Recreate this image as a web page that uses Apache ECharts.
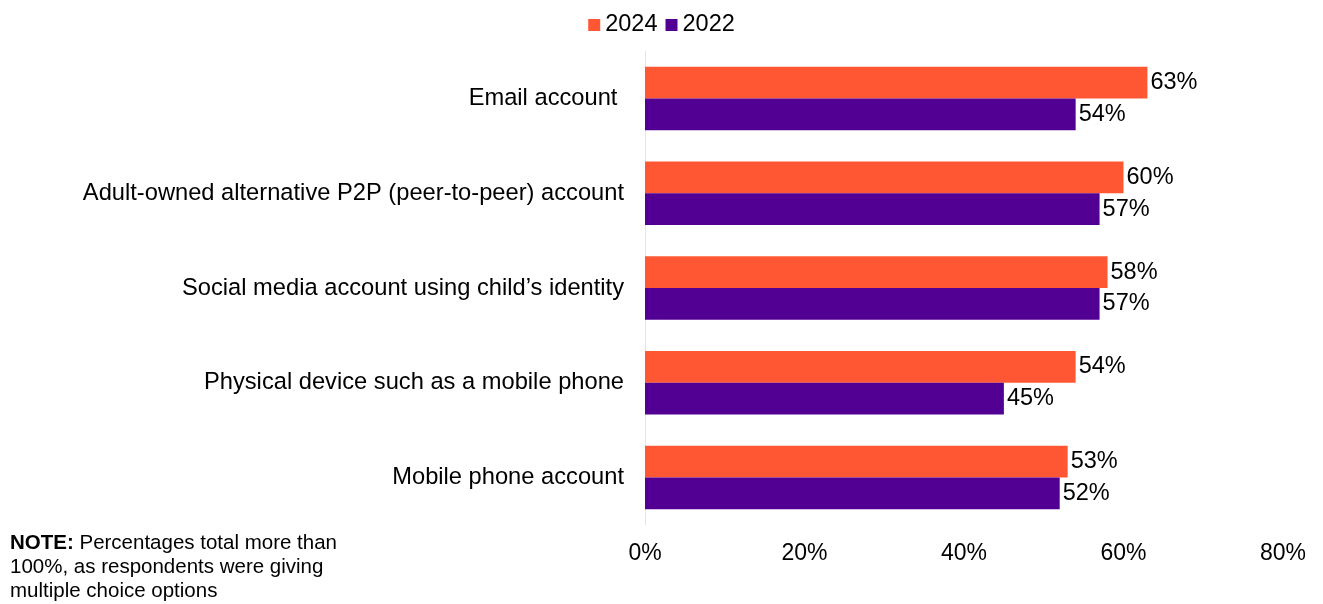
<!DOCTYPE html>
<html>
<head>
<meta charset="utf-8">
<script src="https://cdn.jsdelivr.net/npm/echarts@6/dist/echarts.min.js"></script>
<style>
  html, body { margin: 0; padding: 0; background: #fff; }
  #chart { width: 1323px; height: 604px; }
</style>
</head>
<body>
<div id="chart"></div>
<script>
// Methods used to access accounts, by survey year
const categories = [
  'Email account ',
  'Adult-owned alternative P2P (peer-to-peer) account',
  "Social media account using child\u2019s identity",
  'Physical device such as a mobile phone',
  'Mobile phone account'
];
const values2024 = [63, 60, 58, 54, 53];
const values2022 = [54, 57, 57, 45, 52];
const tickLabels = ['0%', '20%', '40%', '60%', '80%'];

const FONT = 'Liberation Sans, Arial, sans-serif';
const chart = echarts.init(document.getElementById('chart'), null, { renderer: 'canvas' });

const labelStyle = {
  show: true,
  position: 'right',
  distance: 3,
  formatter: p => p.value + '%',
  color: '#000',
  fontSize: 23.5,
  fontFamily: FONT
};

chart.setOption({
  animation: false,
  legend: {
    top: 8,
    left: 'center',
    itemWidth: 12,
    itemHeight: 12,
    itemGap: 8,
    icon: 'rect',
    textStyle: { fontSize: 23.5, fontFamily: FONT, color: '#000' },
    data: ['2024', '2022']
  },
  grid: { left: 645, right: 40, top: 51, bottom: 79, containLabel: false },
  xAxis: {
    type: 'value',
    min: 0,
    max: 80,
    interval: 20,
    axisLine: { show: false },
    axisTick: { show: false },
    splitLine: { show: false },
    axisLabel: {
      margin: 17,
      fontSize: 23,
      fontFamily: FONT,
      color: '#000',
      formatter: v => tickLabels[v / 20]
    }
  },
  yAxis: {
    type: 'category',
    inverse: true,
    data: categories,
    axisLine: { show: true, lineStyle: { color: '#e6e6e6', width: 1 } },
    axisTick: { show: false },
    axisLabel: {
      margin: 21,
      fontSize: 23.7,
      fontFamily: FONT,
      color: '#000'
    }
  },
  series: [
    {
      name: '2024',
      type: 'bar',
      data: values2024,
      barGap: '0%',
      barCategoryGap: '33%',
      itemStyle: { color: '#FF5733' },
      label: labelStyle
    },
    {
      name: '2022',
      type: 'bar',
      data: values2022,
      itemStyle: { color: '#520093' },
      label: labelStyle
    }
  ],
  graphic: [
    {
      type: 'text',
      left: 10,
      top: 533,
      style: {
        rich: {
          b: { fontWeight: 'bold', fontSize: 20.5, fontFamily: FONT, fill: '#000', lineHeight: 24 },
          n: { fontSize: 20.5, fontFamily: FONT, fill: '#000', lineHeight: 24 }
        },
        text: '{b|NOTE:}{n| Percentages total more than}\n{n|100%, as respondents were giving}\n{n|multiple choice options}'
      }
    }
  ]
});
</script>
</body>
</html>
